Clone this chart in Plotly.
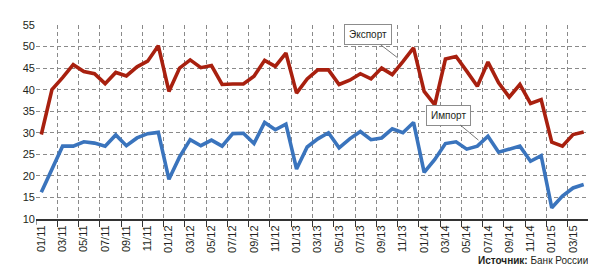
import plotly.graph_objects as go

months = ["01/11", "02/11", "03/11", "04/11", "05/11", "06/11", "07/11", "08/11", "09/11", "10/11", "11/11", "12/11",
          "01/12", "02/12", "03/12", "04/12", "05/12", "06/12", "07/12", "08/12", "09/12", "10/12", "11/12", "12/12",
          "01/13", "02/13", "03/13", "04/13", "05/13", "06/13", "07/13", "08/13", "09/13", "10/13", "11/13", "12/13",
          "01/14", "02/14", "03/14", "04/14", "05/14", "06/14", "07/14", "08/14", "09/14", "10/14", "11/14", "12/14",
          "01/15", "02/15", "03/15", "04/15"]

export_vals = [29.6, 40.0, 42.8, 45.8, 44.2, 43.7, 41.4, 44.0, 43.2, 45.3, 46.6, 50.2,
               39.6, 45.0, 46.9, 45.1, 45.6, 41.2, 41.3, 41.3, 43.1, 46.8, 45.4, 48.5,
               39.2, 42.5, 44.6, 44.6, 41.2, 42.2, 43.7, 42.5, 45.0, 43.5, 46.5, 49.7,
               39.6, 36.5, 47.1, 47.7, 44.3, 40.8, 46.4, 41.6, 38.3, 41.2, 36.8, 37.7,
               27.8, 26.9, 29.6, 30.2]

import_vals = [16.2, 21.4, 26.9, 26.9, 27.9, 27.6, 26.9, 29.5, 27.0, 28.8, 29.8, 30.1,
               19.2, 24.4, 28.4, 27.0, 28.3, 26.9, 29.8, 29.9, 27.5, 32.4, 30.7, 32.0,
               21.6, 26.7, 28.6, 30.0, 26.5, 28.6, 30.3, 28.4, 28.8, 30.9, 30.0, 32.4,
               20.8, 23.8, 27.5, 27.9, 26.2, 26.9, 29.2, 25.5, 26.1, 26.9, 23.4, 24.7,
               12.6, 15.3, 17.2, 18.0]

y_ticks = [10, 15, 20, 25, 30, 35, 40, 45, 50, 55]

idx = list(range(len(months)))
label_idx = idx[::2]
label_text = [months[i] for i in label_idx]

FONT = "Liberation Sans, Arial, sans-serif"
TXT = "#231f20"
GRID = "#8a8a8a"

fig = go.Figure()
fig.add_trace(go.Scatter(x=idx, y=export_vals, mode="lines", name="Экспорт",
                         line=dict(color="#a8200f", width=3.6), showlegend=False))
fig.add_trace(go.Scatter(x=idx, y=import_vals, mode="lines", name="Импорт",
                         line=dict(color="#3a74bd", width=3.6), showlegend=False))

fig.add_annotation(x=33.5, y=47.4, xref="x", yref="y", text="Экспорт",
                   showarrow=True, arrowhead=0, arrowwidth=0.8, arrowcolor="#555",
                   ax=-30, ay=-23, bgcolor="white", bordercolor="#8c8c8c", borderwidth=1,
                   borderpad=4, font=dict(family=FONT, size=10, color=TXT))
fig.add_annotation(x=41.1, y=28.3, xref="x", yref="y", text="Импорт",
                   showarrow=True, arrowhead=0, arrowwidth=0.8, arrowcolor="#555",
                   ax=-30, ay=-25, bgcolor="white", bordercolor="#8c8c8c", borderwidth=1,
                   borderpad=4, font=dict(family=FONT, size=10, color=TXT))
fig.add_annotation(x=1.002, y=-0.215, xref="paper", yref="paper", text="<b>Источник:</b> Банк России",
                   showarrow=False, xanchor="right", yanchor="middle",
                   font=dict(family=FONT, size=10, color=TXT))

fig.update_layout(
    width=596, height=271,
    margin=dict(l=28, r=15, t=17, b=60),
    paper_bgcolor="white", plot_bgcolor="white",
    font=dict(family=FONT, size=11, color=TXT),
    xaxis=dict(range=[-0.5, 51.5], tickmode="array", tickvals=label_idx, ticktext=label_text,
               tickangle=-90, showgrid=False, zeroline=False, ticks="",
               showline=True, linecolor="#333", linewidth=2,
               tickfont=dict(family=FONT, size=11, color=TXT),
               minor=dict(tickmode="array", tickvals=[i - 0.5 for i in range(2, 52, 2)],
                          ticks="outside", ticklen=6, tickcolor="#333", tickwidth=1,
                          showgrid=True, gridcolor=GRID, griddash="4px,3px", gridwidth=1)),
    yaxis=dict(range=[10, 55], tickmode="array", tickvals=y_ticks, showgrid=True,
               gridcolor=GRID, griddash="4px,3px", gridwidth=1, zeroline=False,
               showline=False, ticks="", tickfont=dict(family=FONT, size=11, color=TXT)),
    shapes=[
        dict(type="line", xref="x", yref="paper", x0=-0.5, x1=-0.5, y0=0, y1=-0.03,
             line=dict(color="#333", width=1)),
        dict(type="line", xref="x", yref="paper", x0=51.5, x1=51.5, y0=0, y1=-0.03,
             line=dict(color="#333", width=1)),
    ],
)

fig.write_html("out.html")
